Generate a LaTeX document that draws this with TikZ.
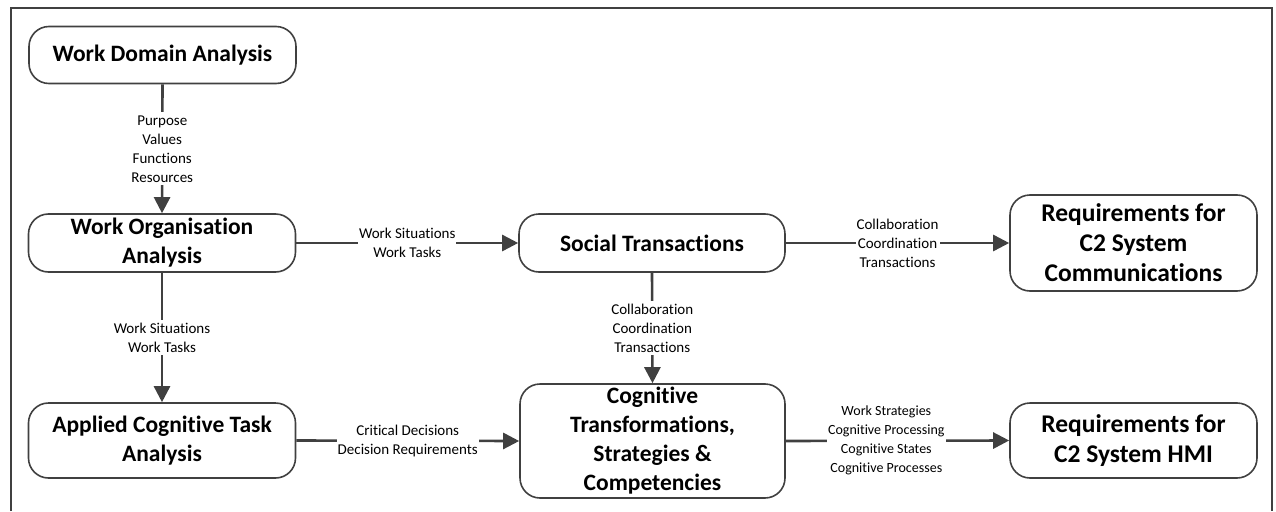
\documentclass[tikz,border=0pt]{standalone}
\usepackage{fontspec}
\setmainfont{Carlito}[Ligatures=NoCommon,RawFeature={-liga;-dlig}]
\usetikzlibrary{arrows.meta}
\definecolor{ln}{HTML}{404040}
\tikzset{
  box/.style={draw=ln, line width=1.6pt, rounded corners=20pt, fill=white, align=center,
    font=\fontsize{23.5}{29}\selectfont\bfseries, inner sep=0pt},
  reqbox/.style={box, font=\fontsize{25.5}{30}\selectfont\bfseries},
  conn/.style={draw=ln, line width=2.6pt, -{Triangle[length=16pt,width=16pt]}},
  lbl/.style={fill=white, align=center, font=\fontsize{15}{19}\selectfont, inner xsep=1pt, inner ysep=3pt, text=black}
}
\begin{document}
\begin{tikzpicture}[x=1pt,y=-1pt]
\useasboundingbox (0,0) rectangle (1276,511);
\draw[draw=ln, line width=2.4pt] (11,511) -- (11,8) -- (1272,8) -- (1272,511);

\node[box, minimum width=267, minimum height=57] (wda) at (162.5,55) {Work Domain Analysis};
\node[box, minimum width=267, minimum height=58] (woa) at (162,243) {Work Organisation\\Analysis};
\node[box, minimum width=267, minimum height=75] (acta) at (162,440.5) {Applied Cognitive Task\\Analysis};
\node[box, minimum width=266, minimum height=58] (st) at (652,243) {Social Transactions};
\node[box, minimum width=265, minimum height=114] (ctsc) at (652.5,441) {Cognitive\\Transformations,\\Strategies \&\\Competencies};
\node[reqbox, minimum width=247, minimum height=96] (rc) at (1133.5,243) {Requirements for\\C2 System\\Communications};
\node[reqbox, minimum width=247, minimum height=75] (rh) at (1133.5,440.5) {Requirements for\\C2 System HMI};

\draw[conn] (wda.south) -- (woa.north) node[midway, lbl] {Purpose\\Values\\Functions\\Resources};
\draw[conn] (woa.south) -- (acta.north) node[midway, lbl] {Work Situations\\Work Tasks};
\draw[conn] (woa.east) -- (st.west) node[midway, lbl] {Work Situations\\Work Tasks};
\draw[conn] (st.south) -- (ctsc.north) node[midway, lbl] {Collaboration\\Coordination\\Transactions};
\draw[conn] (st.east) -- (rc.west) node[midway, lbl] {Collaboration\\Coordination\\Transactions};
\draw[conn] (acta.east) -- (ctsc.west) node[midway, lbl] {Critical Decisions\\Decision Requirements};
\draw[conn] (ctsc.east) -- (rh.west) node[pos=0.45, lbl, font=\fontsize{14}{19}\selectfont] {Work Strategies\\Cognitive Processing\\Cognitive States\\Cognitive Processes};
\end{tikzpicture}
\end{document}
